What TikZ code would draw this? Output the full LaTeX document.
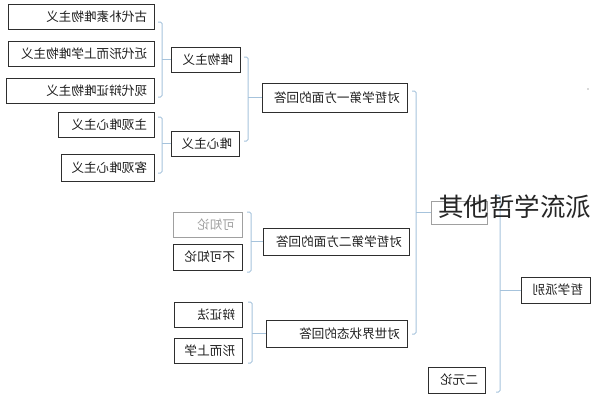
\documentclass[tikz,border=0pt]{standalone}
\usepackage{fontspec}
\usepackage{graphicx}
\newfontfamily\cjk{Noto Sans CJK SC}
\definecolor{boxc}{HTML}{2E2E2E}
\definecolor{txtc}{HTML}{1E1E1E}
\definecolor{greyc}{HTML}{A0A0A0}
\definecolor{brkc}{HTML}{A6C3DC}
\newcommand\mtxt[1]{\scalebox{-1}[1]{#1}}
% \bx{name}{x1}{y1}{x2}{y2}{text}{extra style}
\newcommand\bx[7]{%
  \node[box,#7,minimum width={#4pt-#2pt},minimum height={#5pt-#3pt}] (#1) at ({(#2+#4)/2},{(#3+#5)/2})
    {\makebox[\dimexpr #4pt-#2pt-14pt\relax][r]{\mtxt{#6}}};}
% \brkt{x}{ytop}{ybot}{parent}{dist}
\newcommand\brkt[5]{%
  \draw[brk,rounded corners=1.5pt] (#1-4,#2) -- (#1,#2) -- (#1,#3) -- (#1-4,#3);
  \draw[brk] (#4.west) -- ++(-#5,0);}
\tikzset{
  box/.style={draw=boxc,line width=1pt,inner sep=0pt,text=txtc,
    font=\cjk\fontsize{12.6}{14}\selectfont},
  brk/.style={draw=brkc,line width=1pt},
}
\begin{document}
\begin{tikzpicture}[x=1pt,y=-1pt]
\useasboundingbox (0,0) rectangle (593,400);
% leaves
\bx{gd}{8}{4}{154}{29}{古代朴素唯物主义}{}
\bx{jd}{8}{41}{154}{66}{近代形而上学唯物主义}{}
\bx{xd}{6}{78}{154}{103}{现代辩证唯物主义}{}
\bx{zg}{58}{112}{154}{137}{主观唯心主义}{}
\bx{kg}{61}{154}{154}{181}{客观唯心主义}{}
\bx{ww}{171}{47}{240}{72}{唯物主义}{}
\bx{wx}{171}{131}{239}{156}{唯心主义}{}
\bx{ans1}{262}{83}{407}{112}{对哲学第一方面的回答}{}
\bx{kz}{173}{212}{242}{237}{可知论}{draw=greyc,text=greyc}
\bx{bkz}{173}{244}{242}{270}{不可知论}{}
\bx{ans2}{263}{228}{409}{255}{对哲学第二方面的回答}{}
\bx{bzf}{174}{302}{242}{327}{辩证法}{}
\bx{xes}{174}{338}{242}{363}{形而上学}{}
\bx{ans3}{266}{320}{407}{347}{对世界状态的回答}{}
\node[draw=greyc,line width=0.8pt,inner sep=0pt,minimum width=56pt,minimum height=23pt] (other) at (459,212.5) {};
\bx{eyl}{428}{367}{485}{393}{二元论}{}
\bx{pb}{521}{277}{590}{303}{哲学派别}{}
% brackets
\brkt{162}{22}{97}{ww}{9}
\brkt{162}{117}{173}{wx}{9}
\brkt{248}{57}{141}{ans1}{14}
\brkt{251}{212}{272}{ans2}{12}
\brkt{252}{302}{363}{ans3}{14}
\brkt{416}{91}{334}{other}{15}
\brkt{500}{195}{392}{pb}{21}
% overlay title
\node[anchor=base west,inner sep=0pt,font=\cjk\fontsize{25.5}{28}\selectfont,text=black!85] (otherlbl) at (438,216) {其他哲学流派};
\fill[gray!60] (588,89) circle (0.8);
\end{tikzpicture}
\end{document}
